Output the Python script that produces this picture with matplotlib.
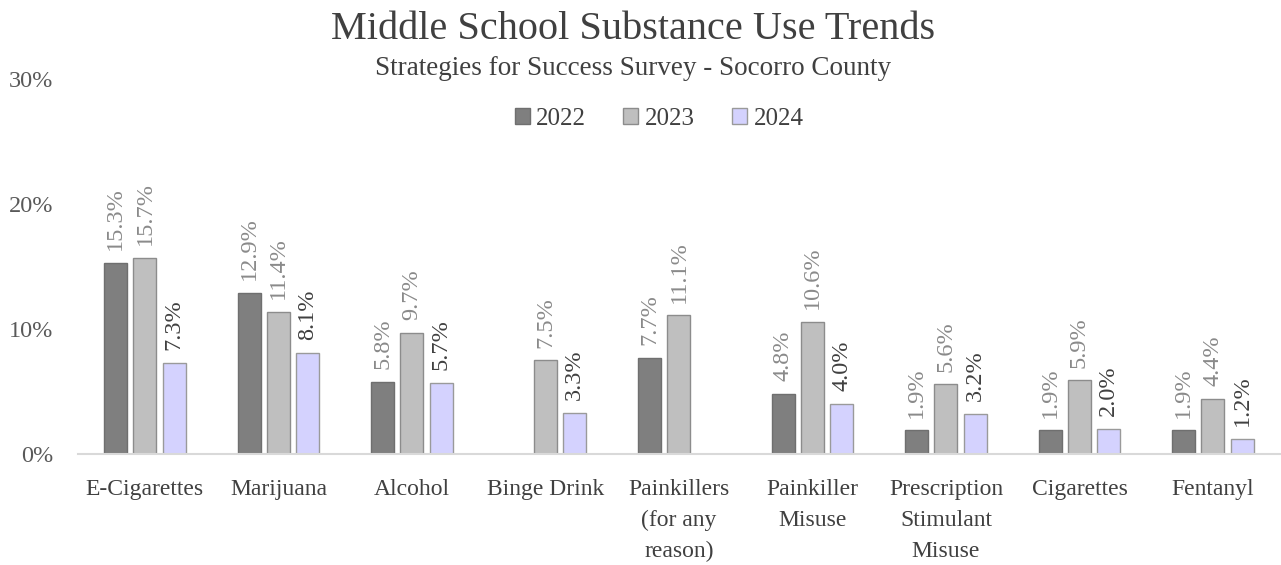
import numpy as np
import matplotlib.pyplot as plt
from matplotlib.ticker import FuncFormatter

categories = ["E-Cigarettes", "Marijuana", "Alcohol", "Binge Drink",
              "Painkillers\n(for any\nreason)", "Painkiller\nMisuse",
              "Prescription\nStimulant\nMisuse", "Cigarettes", "Fentanyl"]
years = ["2022", "2023", "2024"]
y2022 = [15.3, 12.9, 5.8, np.nan, 7.7, 4.8, 1.9, 1.9, 1.9]
y2023 = [15.7, 11.4, 9.7, 7.5, 11.1, 10.6, 5.6, 5.9, 4.4]
y2024 = [7.3, 8.1, 5.7, 3.3, np.nan, 4.0, 3.2, 2.0, 1.2]

plt.rcParams['font.family'] = ['Liberation Serif', 'DejaVu Serif']

fills = ['#7f7f7f', '#bfbfbf', '#d4d2fe']
edges = ['#6f6f6f', '#8c8c8c', '#9a9a9a']
label_colors = ['#8a8a8a', '#8a8a8a', '#404040']

fig = plt.figure(figsize=(12.81, 5.65), dpi=100)
ax = fig.add_axes([0.061, 0.1965, 0.938, 0.6635])

x = np.arange(len(categories))
slot = 0.22
width = 0.172
for i, vals in enumerate([y2022, y2023, y2024]):
    pos = x + (i - 1) * slot
    ax.bar(pos, vals, width, color=fills[i], edgecolor=edges[i], linewidth=1,
           label=years[i], zorder=2)
    for p, v in zip(pos, vals):
        if np.isnan(v):
            continue
        ax.annotate(f"{v:.1f}%", (p, v), xytext=(0, 9), textcoords='offset points',
                    rotation=90, ha='center', va='bottom', fontsize=17.5,
                    color=label_colors[i])

ax.set_xlim(-0.5, len(categories) - 0.5)
ax.set_ylim(0, 30)
ax.set_yticks([0, 10, 20, 30])
ax.yaxis.set_major_formatter(FuncFormatter(lambda v, _: f"{v:.0f}%"))
ax.set_xticks(x)
ax.set_xticklabels(categories, fontsize=17, color='#404040', linespacing=1.62)
ax.tick_params(axis='y', length=0, labelsize=17.5, labelcolor='#595959', pad=18)
ax.tick_params(axis='x', length=0, pad=18)
for s in ['top', 'right', 'left']:
    ax.spines[s].set_visible(False)
ax.spines['bottom'].set_color('#d9d9d9')
ax.spines['bottom'].set_linewidth(1.5)

fig.text(0.4945, 0.948, "Middle School Substance Use Trends", ha='center', va='center',
         fontsize=29, color='#404040')
fig.text(0.4945, 0.878, "Strategies for Success Survey - Socorro County", ha='center',
         va='center', fontsize=19.5, color='#404040')
ax.legend(loc='center', bbox_to_anchor=(0.5145, 0.79), bbox_transform=fig.transFigure,
          ncol=3, frameon=False, fontsize=18, labelcolor='#404040',
          handlelength=0.6, handleheight=0.6, handletextpad=0.25, columnspacing=1.5)

fig.savefig("out.png", dpi=100)
